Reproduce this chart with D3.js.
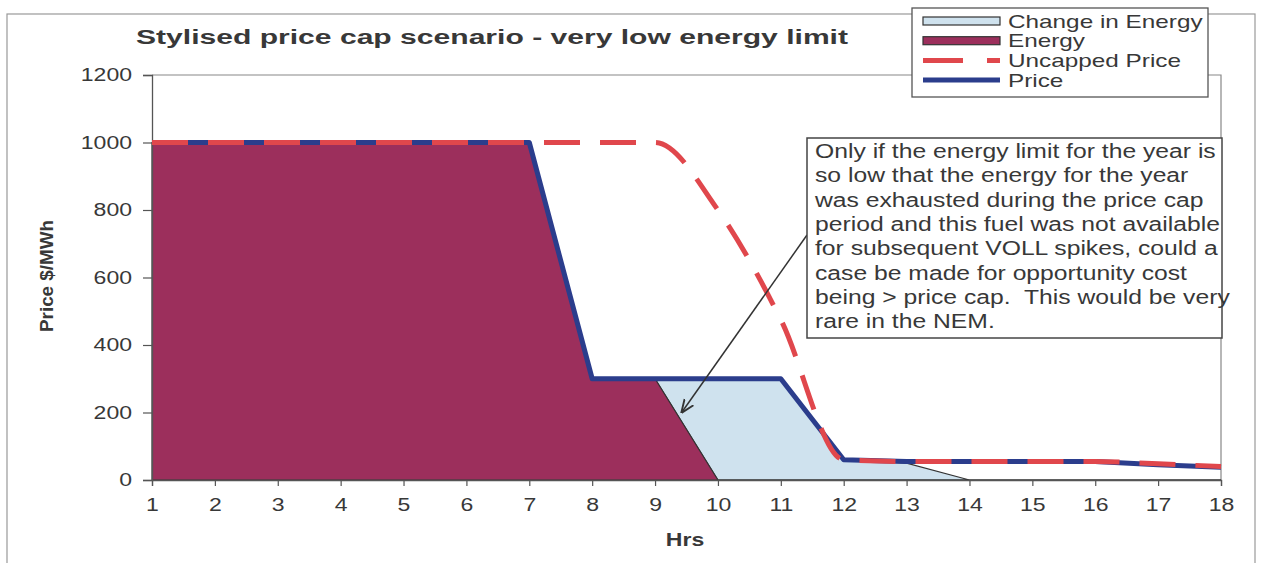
<!DOCTYPE html>
<html>
<head>
<meta charset="utf-8">
<script src="https://cdn.jsdelivr.net/npm/d3@7"></script>
<style>
  body { margin: 0; background: #fff; }
  svg { display: block; font-family: Arial, "Liberation Sans", sans-serif; }
</style>
</head>
<body>
<div id="chart"></div>
<script>
const hours = [1, 2, 3, 4, 5, 6, 7, 8, 9, 10, 11, 12, 13, 14, 15, 16, 17, 18];
const energy = [1000, 1000, 1000, 1000, 1000, 1000, 1000, 300, 300, 0, 0, 0, 0, 0, 0, 0, 0, 0];
const changeInEnergy = [0, 0, 0, 0, 0, 0, 0, 0, 0, 300, 300, 60, 50, 0, 0, 0, 0, 0];
const uncappedPrice = [1000, 1000, 1000, 1000, 1000, 1000, 1000, 1000, 1000, 800, 475, 60, 55, 55, 55, 55, 48, 40];
const price = [1000, 1000, 1000, 1000, 1000, 1000, 1000, 300, 300, 300, 300, 60, 55, 55, 55, 55, 45, 38];
const yTicks = [0, 200, 400, 600, 800, 1000, 1200];
const legendLabels = ["Change in Energy", "Energy", "Uncapped Price", "Price"];
const noteLines = [
  "Only if the energy limit for the year is",
  "so low that the energy for the year",
  "was exhausted during the price cap",
  "period and this fuel was not available",
  "for subsequent VOLL spikes, could a",
  "case be made for opportunity cost",
  "being > price cap.  This would be very",
  "rare in the NEM."
];

const width = 1261;
const height = 563;
const SX = 1.28; // the scan is stretched horizontally
const textColor = "#383838";
const colors = {
  change: "#cfe2ee",
  energy: "#9c2f5c",
  uncapped: "#e0474c",
  price: "#2b3d8c"
};

// stretch text horizontally around its anchor
function stretch(sel) {
  sel.each(function () {
    const t = d3.select(this);
    const x = +t.attr("x") || 0;
    const y = +t.attr("y") || 0;
    t.attr("x", 0).attr("y", 0)
      .attr("transform", `translate(${x},${y}) scale(${SX},1)`);
  });
}

const svg = d3.select("#chart").append("svg")
  .attr("width", width)
  .attr("height", height);

svg.append("rect")
  .attr("width", width).attr("height", height)
  .attr("fill", "#fff");

// outer frame
svg.append("rect")
  .attr("x", 7).attr("y", 14)
  .attr("width", 1248).attr("height", 580)
  .attr("fill", "none")
  .attr("stroke", "#999")
  .attr("stroke-width", 1.2);

const x = d3.scaleLinear().domain([1, 18]).range([152, 1221]);
const y = d3.scaleLinear().domain([0, 1200]).range([480, 75]);

const rows = hours.map((h, i) => ({
  hour: h,
  energy: energy[i],
  change: changeInEnergy[i]
}));
const stacked = d3.stack().keys(["energy", "change"])(rows);

const area = d3.area()
  .x((d) => x(d.data.hour))
  .y0((d) => y(d[0]))
  .y1((d) => y(d[1]));

// plot area border (top and right)
svg.append("path")
  .attr("d", `M${x(1)},${y(1200)}H${x(18)}V${y(0)}`)
  .attr("fill", "none")
  .attr("stroke", "#888")
  .attr("stroke-width", 1.2);

// areas: change in energy first, energy on top
svg.append("path")
  .datum(stacked[1])
  .attr("d", area)
  .attr("fill", colors.change)
  .attr("stroke", "#333")
  .attr("stroke-width", 1.2);

svg.append("path")
  .datum(stacked[0])
  .attr("d", area)
  .attr("fill", colors.energy)
  .attr("stroke", "#333")
  .attr("stroke-width", 1.2);

// axes
const yAxis = svg.append("g")
  .attr("transform", `translate(${x(1)},0)`)
  .call(d3.axisLeft(y).tickValues(yTicks).tickFormat(d3.format("d")).tickSize(9).tickPadding(11));
const xAxis = svg.append("g")
  .attr("transform", `translate(0,${y(0)})`)
  .call(d3.axisBottom(x).tickValues(hours).tickFormat(d3.format("d")).tickSize(6).tickPadding(12));

[xAxis, yAxis].forEach((g) => {
  g.select(".domain").attr("stroke", "#555").attr("stroke-width", 1.3);
  g.selectAll(".tick line").attr("stroke", "#555").attr("stroke-width", 1.2);
  g.selectAll(".tick text")
    .attr("fill", textColor)
    .attr("font-size", 18)
    .attr("font-family", "Arial, 'Liberation Sans', sans-serif")
    .call(stretch);
});

// lines
const priceLine = d3.line()
  .x((d, i) => x(hours[i]))
  .y((d) => y(d));

svg.append("path")
  .datum(price)
  .attr("d", priceLine)
  .attr("fill", "none")
  .attr("stroke", colors.price)
  .attr("stroke-width", 5)
  .attr("stroke-linejoin", "round");

svg.append("path")
  .datum(uncappedPrice)
  .attr("d", priceLine.curve(d3.curveMonotoneX))
  .attr("fill", "none")
  .attr("stroke", colors.uncapped)
  .attr("stroke-width", 5)
  .attr("stroke-dasharray", "36,20");

// title
svg.append("text")
  .attr("x", 136).attr("y", 44)
  .attr("font-size", 20)
  .attr("font-weight", "bold")
  .attr("fill", textColor)
  .attr("textLength", 712)
  .attr("lengthAdjust", "spacingAndGlyphs")
  .text("Stylised price cap scenario - very low energy limit");

// axis titles
svg.append("text")
  .attr("x", 685).attr("y", 546)
  .attr("text-anchor", "middle")
  .attr("font-size", 18)
  .attr("font-weight", "bold")
  .attr("fill", textColor)
  .text("Hrs")
  .call(stretch);

svg.append("text")
  .attr("transform", "translate(53,276) rotate(-90)")
  .attr("text-anchor", "middle")
  .attr("font-size", 18)
  .attr("font-weight", "bold")
  .attr("fill", textColor)
  .attr("textLength", 112)
  .attr("lengthAdjust", "spacingAndGlyphs")
  .text("Price $/MWh");

// annotation box and arrow
svg.append("defs").append("marker")
  .attr("id", "arrow")
  .attr("viewBox", "0 0 10 10")
  .attr("refX", 9).attr("refY", 5)
  .attr("markerWidth", 9).attr("markerHeight", 9)
  .attr("orient", "auto")
  .append("path")
  .attr("d", "M0,1L10,5L0,9")
  .attr("fill", "none")
  .attr("stroke", "#333")
  .attr("stroke-width", 1.4);

svg.append("line")
  .attr("x1", 807).attr("y1", 235)
  .attr("x2", 682).attr("y2", 412)
  .attr("stroke", "#333")
  .attr("stroke-width", 1.5)
  .attr("marker-end", "url(#arrow)");

svg.append("rect")
  .attr("x", 807).attr("y", 138)
  .attr("width", 415).attr("height", 200)
  .attr("fill", "#fff")
  .attr("stroke", "#444")
  .attr("stroke-width", 1.5);

svg.append("g")
  .selectAll("text")
  .data(noteLines)
  .join("text")
  .attr("x", 815)
  .attr("y", (d, i) => 158 + i * 24.3)
  .attr("font-size", 19.3)
  .attr("fill", textColor)
  .attr("xml:space", "preserve")
  .style("white-space", "pre")
  .text((d) => d)
  .call(stretch);

// legend
const legend = svg.append("g");
legend.append("rect")
  .attr("x", 912).attr("y", 8)
  .attr("width", 296).attr("height", 89)
  .attr("fill", "#fff")
  .attr("stroke", "#555")
  .attr("stroke-width", 1.3);

const legendY = (i) => 21 + i * 19.7;
legend.selectAll("g.item")
  .data(legendLabels)
  .join("g")
  .attr("class", "item")
  .each(function (d, i) {
    const g = d3.select(this);
    const cy = legendY(i);
    if (i < 2) {
      g.append("rect")
        .attr("x", 923).attr("y", cy - 4)
        .attr("width", 77).attr("height", 8)
        .attr("fill", i === 0 ? colors.change : colors.energy)
        .attr("stroke", "#333")
        .attr("stroke-width", 1.2);
    } else {
      g.append("line")
        .attr("x1", 923).attr("x2", 1000)
        .attr("y1", cy).attr("y2", cy)
        .attr("stroke", i === 2 ? colors.uncapped : colors.price)
        .attr("stroke-width", 5)
        .attr("stroke-dasharray", i === 2 ? "40,24" : null);
    }
    g.append("text")
      .attr("x", 1008).attr("y", cy + 6.5)
      .attr("font-size", 19)
      .attr("fill", textColor)
      .text(d)
      .call(stretch);
  });
</script>
</body>
</html>
